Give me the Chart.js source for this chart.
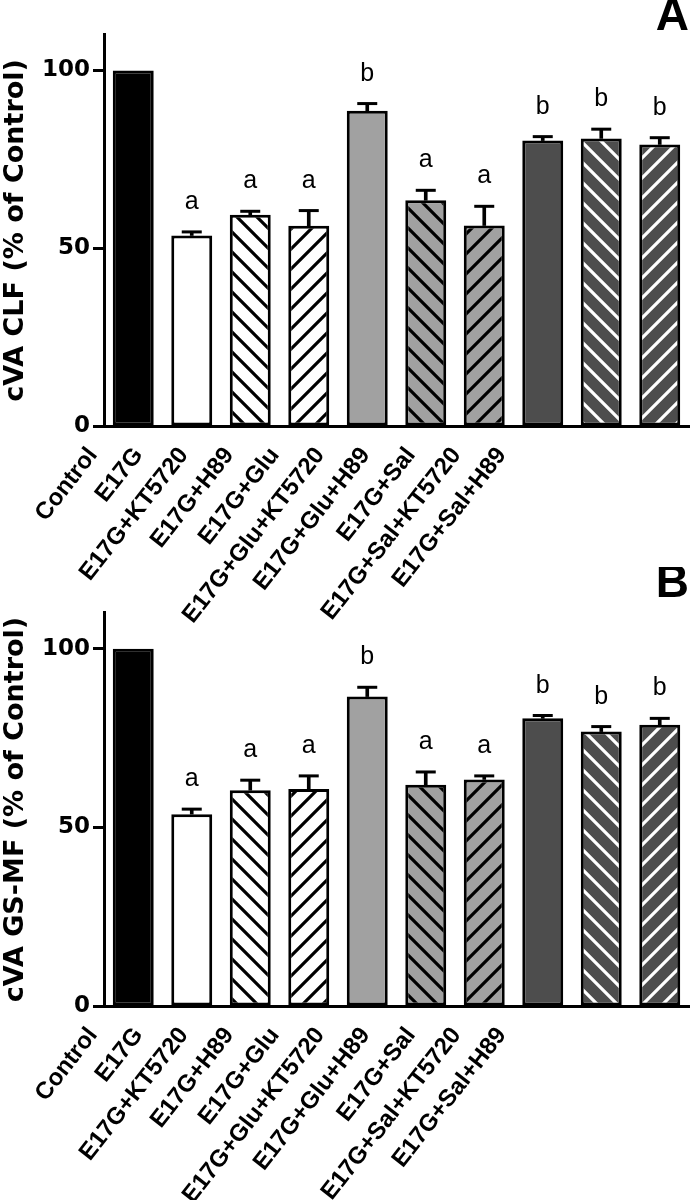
<!DOCTYPE html>
<html>
<head>
<meta charset="utf-8">
<script src="https://cdn.jsdelivr.net/npm/chart.js@4.4.0/dist/chart.umd.min.js"></script>
<style>
  body { margin: 0; background: #fff; overflow: hidden; }
  #wrap { position: relative; width: 692px; height: 1200px; overflow: hidden; }
  .box { position: absolute; left: 0; width: 692px; }
  #boxA { top: 0; height: 645px; }
  #boxB { top: 567px; height: 658px; }
</style>
</head>
<body>
<div id="wrap">
  <div class="box" id="boxA"><canvas id="chartA"></canvas></div>
  <div class="box" id="boxB"><canvas id="chartB"></canvas></div>
</div>
<script>
// ======================
// DATA
// ======================
const groups = ["Control", "E17G", "E17G+KT5720", "E17G+H89", "E17G+Glu",
  "E17G+Glu+KT5720", "E17G+Glu+H89", "E17G+Sal", "E17G+Sal+KT5720", "E17G+Sal+H89"];

const clfMeans = [100, 53.6, 59.4, 56.3, 88.7, 63.5, 56.4, 80.3, 80.9, 79.2];
const clfErrors = [0, 1.0, 1.0, 4.3, 2.0, 2.8, 5.4, 1.1, 2.6, 1.9];

const gsmfMeans = [100, 53.7, 60.4, 60.7, 86.6, 61.9, 63.4, 80.5, 76.8, 78.7];
const gsmfErrors = [0, 1.4, 2.8, 3.7, 2.6, 3.6, 1.0, 0.8, 1.4, 1.8];

const sigLetters = ["", "a", "a", "a", "b", "a", "a", "b", "b", "b"];
const yTickValues = [0, 50, 100];


// ======================
// BAR FILLS
// ======================
const LIGHT = "#a1a1a1";
const DARK = "#4d4d4d";
// [background, hatch colour, direction]
const fills = [
  ["#000000", null, null],
  ["#ffffff", null, null],
  ["#ffffff", "#000000", "back"],
  ["#ffffff", "#000000", "fwd"],
  [LIGHT, null, null],
  [LIGHT, "#000000", "back"],
  [LIGHT, "#000000", "fwd"],
  [DARK, null, null],
  [DARK, "#ffffff", "back"],
  [DARK, "#ffffff", "fwd"]
];

function hatch(ctx, bg, fg, dir) {
  const s = 20;
  const c = document.createElement("canvas");
  c.width = s;
  c.height = s;
  const g = c.getContext("2d");
  g.fillStyle = bg;
  g.fillRect(0, 0, s, s);
  g.strokeStyle = fg;
  g.lineWidth = 3.2;
  g.beginPath();
  if (dir === "back") {
    g.moveTo(-5, -5); g.lineTo(s + 5, s + 5);
    g.moveTo(-5, s - 5); g.lineTo(5, s + 5);
    g.moveTo(s - 5, -5); g.lineTo(s + 5, 5);
  } else {
    g.moveTo(-5, s + 5); g.lineTo(s + 5, -5);
    g.moveTo(-5, 5); g.lineTo(5, -5);
    g.moveTo(s - 5, s + 5); g.lineTo(s + 5, s - 5);
  }
  g.stroke();
  return ctx.createPattern(c, "repeat");
}

function barFills(ctx) {
  return fills.map(f => f[1] ? hatch(ctx, f[0], f[1], f[2]) : f[0]);
}


// ======================
// LETTERS ABOVE BARS
// ======================
const letterPlugin = {
  id: "sigLetters",
  afterDatasetsDraw(chart, args, opts) {
    const ctx = chart.ctx;
    const x = chart.scales.x;
    const y = chart.scales.y;
    ctx.save();
    ctx.font = "25px 'Liberation Sans', Arial, sans-serif";
    ctx.fillStyle = "#000";
    ctx.textAlign = "center";
    ctx.textBaseline = "alphabetic";
    opts.tops.forEach((v, i) => {
      if (!sigLetters[i]) return;
      ctx.fillText(sigLetters[i], x.getPixelForValue(i), y.getPixelForValue(v) - 23);
    });
    ctx.restore();
  }
};


// ======================
// CHART SETUP
// ======================
const FONT = "'Liberation Sans', Arial, sans-serif";
const WIDE = "'DejaVu Sans', sans-serif";

function makeChart(id, panel, panelGap, yTitle, means, errors) {
  const canvas = document.getElementById(id);
  const ctx = canvas.getContext("2d");
  const tops = means.map((m, i) => m + errors[i]);

  return new Chart(canvas, {
    data: {
      labels: groups,
      datasets: [
        {
          type: "bar",
          data: means,
          backgroundColor: barFills(ctx),
          borderColor: "#000",
          borderWidth: 3,
          borderSkipped: false,
          barPercentage: 0.7,
          categoryPercentage: 1,
          grouped: false,
          order: 2
        },
        {
          type: "bar",
          data: means.map((m, i) => errors[i] ? [m, m + errors[i]] : null),
          backgroundColor: "#000",
          borderWidth: 0,
          barThickness: 3,
          grouped: false,
          order: 1
        },
        {
          type: "line",
          data: means.map((m, i) => errors[i] ? m + errors[i] : null),
          showLine: false,
          pointStyle: "line",
          pointRadius: 10,
          pointBorderWidth: 3,
          pointBorderColor: "#000",
          borderColor: "#000",
          order: 0
        }
      ]
    },
    options: {
      responsive: true,
      maintainAspectRatio: false,
      animation: false,
      devicePixelRatio: 1,
      layout: { autoPadding: false, padding: { left: 0, right: 3, top: 0, bottom: 0 } },
      plugins: {
        legend: { display: false },
        tooltip: { enabled: false },
        title: {
          display: true,
          text: panel,
          align: "end",
          color: "#000",
          font: { family: FONT, size: 46, weight: "bold", lineHeight: 0.76 },
          padding: { top: 0, bottom: panelGap }
        },
        sigLetters: { tops: tops }
      },
      scales: {
        x: {
          type: "category",
          offset: true,
          grid: { display: false, drawTicks: false },
          ticks: { display: false },
          border: { color: "#000", width: 3 }
        },
        xl: {
          type: "linear",
          position: "bottom",
          min: 0.242,
          max: 13.121,
          afterBuildTicks: scale => {
            scale.ticks = groups.map((g, i) => ({ value: i }));
          },
          grid: { display: false, drawTicks: false },
          border: { display: false },
          ticks: {
            autoSkip: false,
            minRotation: 52,
            maxRotation: 52,
            padding: 16,
            color: "#000",
            font: { family: FONT, size: 24, weight: "bold" },
            callback: v => groups[v]
          }
        },
        y: {
          min: 0,
          max: 110,
          afterBuildTicks: scale => {
            scale.ticks = yTickValues.map(v => ({ value: v }));
          },
          afterFit: scale => { scale.width = 104; },
          grid: {
            drawOnChartArea: false,
            drawTicks: true,
            tickLength: 11,
            tickWidth: 3,
            color: "#000"
          },
          border: { color: "#000", width: 3 },
          ticks: {
            padding: 3,
            color: "#000",
            font: { family: WIDE, size: 23, weight: "bold" }
          },
          title: {
            display: true,
            text: yTitle,
            color: "#000",
            font: { family: WIDE, size: 27, weight: "bold", lineHeight: 1.1 },
            padding: { top: 1, bottom: 4 }
          }
        }
      }
    },
    plugins: [letterPlugin]
  });
}

makeChart("chartA", "A", 0, "cVA CLF (% of Control)", clfMeans, clfErrors);
makeChart("chartB", "B", 11, "cVA GS-MF (% of Control)", gsmfMeans, gsmfErrors);
</script>
</body>
</html>
